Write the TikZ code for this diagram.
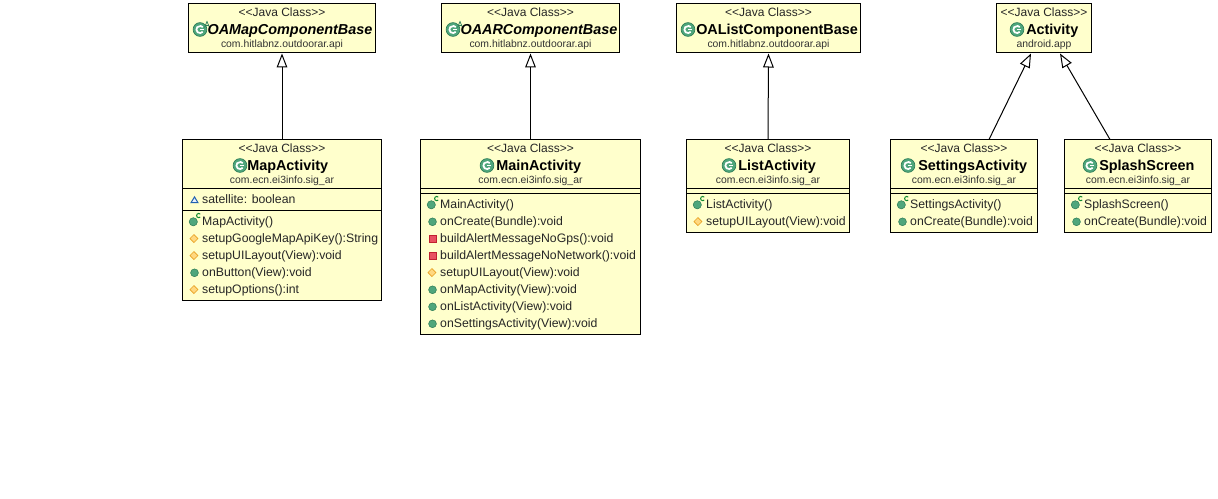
\documentclass[tikz,border=0pt]{standalone}
\usepackage{fontspec}
\setmainfont{Liberation Sans}
\usetikzlibrary{arrows.meta,fit}
\definecolor{boxfill}{HTML}{FFFFCC}
\definecolor{icongreen}{HTML}{4FA67C}
\definecolor{iconedge}{HTML}{2E7D57}
\definecolor{cgreen}{HTML}{108A30}
\definecolor{pkggrey}{HTML}{333333}
\definecolor{diamfill}{HTML}{FFD880}
\definecolor{diamedge}{HTML}{E8A020}
\definecolor{privfill}{HTML}{E85060}
\definecolor{privedge}{HTML}{C02030}
\definecolor{pkgvfill}{HTML}{E8F0FF}
\definecolor{pkgvedge}{HTML}{2060B0}
\tikzset{
  x=0.75pt,y=-0.75pt,
  umlbox/.style={draw=black,line width=0.75pt,fill=boxfill,inner sep=0pt,outer sep=0pt},
  sepline/.style={draw=black,line width=0.75pt},
  stereo/.style={font=\fontsize{9}{9}\selectfont,inner sep=0pt,anchor=base,text=black!85},
  titletext/.style={font=\fontsize{10.8}{10.8}\selectfont\bfseries,inner sep=0pt,anchor=base west,text=black},
  abstracttitle/.style={font=\fontsize{10.8}{10.8}\selectfont\bfseries\itshape,inner sep=0pt,anchor=base west,text=black},
  pkgtext/.style={font=\fontsize{7.8}{7.8}\selectfont,inner sep=0pt,anchor=base,text=pkggrey},
  memtext/.style={font=\fontsize{9.2}{9.2}\selectfont,inner sep=0pt,anchor=base west,text=black!85},
  inherit/.style={draw=black,line width=0.75pt,-{Triangle[length=10.5pt,width=8pt,fill=white,line width=0.75pt]}},
}
% class icon: #1 x, #2 y
\newcommand{\classicon}[2]{%
  \fill[icongreen,draw=iconedge,line width=0.5pt] (#1,#2) circle[radius=6.9];
  \draw[white,line width=1.3pt] (#1,#2) ++(40:3.6) arc[start angle=40,end angle=320,radius=3.6];
  \draw[white,line width=0.8pt] (#1,#2) ++(0.3,0.3) -- ++(3.5,0);
}
\newcommand{\abstractmark}[2]{%
  \draw[iconedge,line width=0.55pt] (#1+4.5,#2-2) -- (#1+7,#2-8) -- (#1+9.5,#2-2) (#1+5.5,#2-4) -- (#1+8.5,#2-4);
}
% header: #1 box name, #2 box left, #3 top, #4 right, #5 bottom, #6 icon x, #7 title x, #8 title, #9 package
\newcommand{\umlhead}[9]{%
  \node[umlbox,fit={(#2,#3)(#4,#5)}] (#1) {};
  \node[stereo] (#1-st) at (#1.center |- 0,#3+13) {<{}<Java Class>{}>};
  \classicon{#6}{#3+26}
  \node[titletext] (#1-ti) at (#7,#3+31) {#8};
  \node[pkgtext] (#1-pk) at (#1.center |- 0,#3+44) {#9};
}
\newcommand{\absthead}[9]{%
  \node[umlbox,fit={(#2,#3)(#4,#5)}] (#1) {};
  \node[stereo] (#1-st) at (#1.center |- 0,#3+13) {<{}<Java Class>{}>};
  \classicon{#6}{#3+26}
  \abstractmark{#6}{#3+26}
  \node[abstracttitle] (#1-ti) at (#7-0.7,#3+31) {#8};
  \node[pkgtext] (#1-pk) at (#1.center |- 0,#3+44) {#9};
}
\newcommand{\sepat}[2]{\draw[sepline] (#1.west |- 0,#2) -- (#1.east |- 0,#2);}
% members: #1 box, #2 y (centre), #3 text
\newcommand{\memtxt}[3]{\node[memtext] (#1-m#2) at ([xshift=14.6pt]#1.west |- 0,#2+4.6) {#3};}
\newcommand{\pubdot}[2]{\fill[icongreen,draw=iconedge,line width=0.4pt] ([xshift=9pt]#1.west |- 0,#2+0.8) circle[radius=3.9];}
\newcommand{\ctor}[3]{%
  \fill[icongreen,draw=iconedge,line width=0.4pt] ([xshift=8.1pt]#1.west |- 0,#2+0.8) circle[radius=4.1];
  \draw[cgreen,line width=0.75pt] ([xshift=13.3pt,yshift=5.2pt]#1.west |- 0,#2) arc[start angle=45,end angle=315,radius=1.6pt];
  \memtxt{#1}{#2}{#3}
}
\newcommand{\pub}[3]{\pubdot{#1}{#2}\memtxt{#1}{#2}{#3}}
\newcommand{\prot}[3]{%
  \fill[diamfill,draw=diamedge,line width=0.45pt]
    ([xshift=5.6pt]#1.west |- 0,#2+0.6) -- ([xshift=8.6pt,yshift=3pt]#1.west |- 0,#2+0.6) -- ([xshift=11.6pt]#1.west |- 0,#2+0.6) -- ([xshift=8.6pt,yshift=-3pt]#1.west |- 0,#2+0.6) -- cycle;
  \memtxt{#1}{#2}{#3}
}
\newcommand{\priv}[3]{%
  \fill[privfill,draw=privedge,line width=0.4pt]
    ([xshift=6.2pt,yshift=-2.7pt]#1.west |- 0,#2+1) rectangle ([xshift=11.6pt,yshift=2.7pt]#1.west |- 0,#2+1);
  \memtxt{#1}{#2}{#3}
}
\newcommand{\pkgv}[3]{%
  \fill[pkgvfill,draw=pkgvedge,line width=0.75pt]
    ([xshift=6.4pt,yshift=-2.2pt]#1.west |- 0,#2+0.8) -- ([xshift=11.6pt,yshift=-2.2pt]#1.west |- 0,#2+0.8) -- ([xshift=9pt,yshift=2.2pt]#1.west |- 0,#2+0.8) -- cycle;
  \memtxt{#1}{#2}{#3}
}
\begin{document}
\begin{tikzpicture}
\useasboundingbox[fill=white] (0,0) rectangle (1218,499);
% top row
\absthead{mapbase}{188.5}{3.5}{375.5}{52.5}{200}{208}{OAMapComponentBase}{com.hitlabnz.outdoorar.api}
\absthead{arbase}{441.5}{3.5}{619.5}{52.5}{453}{461}{OAARComponentBase}{com.hitlabnz.outdoorar.api}
\umlhead{listbase}{676.5}{3.5}{860.5}{52.5}{688}{696}{OAListComponentBase}{com.hitlabnz.outdoorar.api}
\umlhead{activity}{996.5}{3.5}{1091.5}{52.5}{1017}{1026}{Activity}{android.app}
% MapActivity
\umlhead{map}{182.5}{139.5}{381.5}{300.5}{240}{247}{MapActivity}{com.ecn.ei3info.sig\_ar}
\sepat{map}{188.5}\sepat{map}{210.5}
\pkgv{map}{199}{satellite: boolean}
\ctor{map}{221}{MapActivity()}
\prot{map}{238}{setupGoogleMapApiKey():String}
\prot{map}{255}{setupUILayout(View):void}
\pub{map}{272}{onButton(View):void}
\prot{map}{289}{setupOptions():int}
% MainActivity
\umlhead{main}{420.5}{139.5}{640.5}{334.5}{487}{496}{MainActivity}{com.ecn.ei3info.sig\_ar}
\sepat{main}{188.5}\sepat{main}{193.5}
\ctor{main}{204}{MainActivity()}
\pub{main}{221}{onCreate(Bundle):void}
\priv{main}{238}{buildAlertMessageNoGps():void}
\priv{main}{255}{buildAlertMessageNoNetwork():void}
\prot{main}{272}{setupUILayout(View):void}
\pub{main}{289}{onMapActivity(View):void}
\pub{main}{306}{onListActivity(View):void}
\pub{main}{323}{onSettingsActivity(View):void}
% ListActivity
\umlhead{list}{686.5}{139.5}{849.5}{232.5}{729}{738}{ListActivity}{com.ecn.ei3info.sig\_ar}
\sepat{list}{188.5}\sepat{list}{193.5}
\ctor{list}{204}{ListActivity()}
\prot{list}{221}{setupUILayout(View):void}
% SettingsActivity
\umlhead{settings}{890.5}{139.5}{1037.5}{232.5}{908}{918}{SettingsActivity}{com.ecn.ei3info.sig\_ar}
\sepat{settings}{188.5}\sepat{settings}{193.5}
\ctor{settings}{204}{SettingsActivity()}
\pub{settings}{221}{onCreate(Bundle):void}
% SplashScreen
\umlhead{splash}{1064.5}{139.5}{1211.5}{232.5}{1090}{1099}{SplashScreen}{com.ecn.ei3info.sig\_ar}
\sepat{splash}{188.5}\sepat{splash}{193.5}
\ctor{splash}{204}{SplashScreen()}
\pub{splash}{221}{onCreate(Bundle):void}
% connector ends on the boxes
\coordinate (settingsFrom) at ([xshift=18.75pt]settings.north);
\coordinate (settingsTo) at ([xshift=-9.75pt,yshift=-0.75pt]activity.south);
\coordinate (splashFrom) at ([xshift=-21pt]splash.north);
\coordinate (splashTo) at ([xshift=12pt,yshift=-0.75pt]activity.south);
\draw[inherit] (map.north) -- ([yshift=-0.75pt]mapbase.south);
\draw[inherit] (main.north) -- ([yshift=-0.75pt]arbase.south);
\draw[inherit] (list.north) -- ([yshift=-0.75pt]listbase.south);
\draw[inherit] (settingsFrom) -- (settingsTo);
\draw[inherit] (splashFrom) -- (splashTo);
\end{tikzpicture}
\end{document}
